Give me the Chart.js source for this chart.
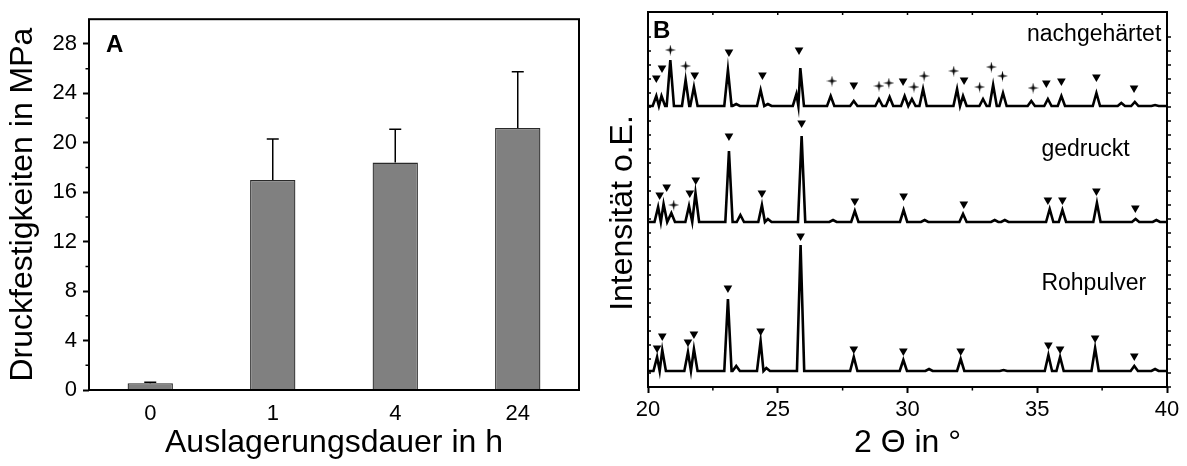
<!DOCTYPE html>
<html>
<head>
<meta charset="utf-8">
<script src="https://cdn.jsdelivr.net/npm/chart.js@4"></script>
<style>
  html, body { margin: 0; padding: 0; background: #fff; }
  #wrap { position: relative; width: 1187px; height: 466px; }
  #boxA { position: absolute; left: 0; top: 0; width: 590px; height: 466px; }
  #boxB { position: absolute; left: 590px; top: 0; width: 597px; height: 466px; }
</style>
</head>
<body>
<div id="wrap">
  <div id="boxA"><canvas id="strengthChart"></canvas></div>
  <div id="boxB"><canvas id="xrdChart"></canvas></div>
</div>
<script>
// ---- Panel A: Druckfestigkeit ----
const ageingHours = ["0", "1", "4", "24"];
const strengthMPa = [0.55, 17.0, 18.4, 21.2];
const strengthErr = [0.07, 3.3, 2.7, 4.55];
const strengthTicks = [0, 4, 8, 12, 16, 20, 24, 28];
const strengthMinorTicks = [2, 6, 10, 14, 18, 22, 26];

// ---- Panel B: XRD, peaks as [2 theta, height above baseline] ----
const thetaTicks = [20, 25, 30, 35, 40];
const thetaMinorTicks = [22.5, 27.5, 32.5, 37.5];

const rohBase = 16;
const rohPeaks = [
  [20.35, 14], [20.55, 21], [21.54, 19], [21.77, 22], [23.08, 72], [23.40, 5],
  [24.34, 30], [24.56, 3], [25.88, 126], [27.93, 14], [29.84, 11], [30.83, 2],
  [32.05, 12], [33.70, 1], [35.43, 16], [35.88, 14], [37.23, 23], [38.74, 5], [39.54, 2]
];
const gedBase = 165;
const gedPeaks = [
  [20.39, 15], [20.60, 18], [20.90, 9], [21.58, 16], [21.83, 29], [23.12, 71], [23.56, 7],
  [24.39, 17], [24.62, 3], [25.92, 86], [27.13, 2], [27.97, 11], [29.85, 12], [30.66, 2],
  [32.14, 8], [33.36, 2], [33.75, 2], [35.48, 13], [35.97, 12], [37.30, 19], [38.79, 3], [39.59, 2]
];
const nachBase = 281;
const nachPeaks = [
  [20.32, 10], [20.52, 10], [20.86, 46], [21.45, 26], [21.77, 19], [23.08, 36], [23.40, 2],
  [24.34, 16], [24.62, 2], [25.72, 12], [25.87, 38], [27.04, 10], [27.93, 5], [28.90, 7],
  [29.31, 9], [29.89, 10], [30.17, 7], [30.60, 17], [31.91, 17], [32.14, 10], [32.91, 7],
  [33.30, 21], [33.68, 13], [34.77, 5], [35.41, 7], [35.93, 10], [37.28, 13], [38.24, 3],
  [38.76, 4], [39.54, 1]
];

// reflex markers [2 theta, intensity]
const rohTri = [[20.35, 39], [20.55, 51], [21.54, 45], [21.77, 53], [23.08, 99], [24.34, 56],
  [25.88, 151], [27.93, 38], [29.84, 36], [32.05, 36], [35.43, 42], [35.88, 38], [37.23, 49], [38.74, 31]];
const gedTri = [[20.45, 192], [20.72, 200], [21.61, 194], [21.84, 207], [23.12, 251], [24.39, 194],
  [25.92, 264], [27.97, 186], [29.85, 191], [32.17, 183], [35.41, 187], [35.97, 187], [37.28, 196], [38.78, 179]];
const gedStar = [[20.99, 182]];
const nachTri = [[20.32, 309], [20.54, 319], [21.80, 312], [23.12, 335], [24.41, 312], [25.82, 337],
  [27.93, 302], [29.83, 306], [32.18, 307], [35.35, 304], [35.93, 306], [37.28, 310], [38.73, 299]];
const nachStar = [[20.86, 337], [21.45, 321], [27.09, 306], [28.90, 301], [29.28, 304], [30.25, 300],
  [30.64, 311], [31.78, 316], [32.78, 300], [33.23, 320], [33.66, 311], [34.84, 299]];

const curveLabels = [
  {text: "nachgehärtet", theta: 39.78, y: 352, align: "right"},
  {text: "gedruckt", theta: 35.16, y: 237, align: "left"},
  {text: "Rohpulver", theta: 35.16, y: 103, align: "left"}
];

Chart.defaults.font.family = "'Liberation Sans', Arial, sans-serif";
Chart.defaults.color = "#000";
Chart.defaults.animation = false;

const FONT = "'Liberation Sans', Arial, sans-serif";
const PEAK_HW = 0.14;

function tracePoints(base, peaks) {
  const pts = [[20, base]];
  peaks.forEach(function (p, i) {
    const prev = peaks[i - 1], next = peaks[i + 1];
    const left = prev ? Math.min(PEAK_HW, (p[0] - prev[0]) / 2) : PEAK_HW;
    const right = next ? Math.min(PEAK_HW, (next[0] - p[0]) / 2) : PEAK_HW;
    pts.push([p[0] - left, base]);
    pts.push([p[0], base + p[1]]);
    pts.push([p[0] + right, base]);
  });
  pts.push([40, base]);
  return pts;
}

function makeStar() {
  const c = document.createElement("canvas");
  c.width = 11; c.height = 11;
  const g = c.getContext("2d");
  g.fillStyle = "#000";
  g.beginPath();
  g.moveTo(5.5, 0); g.lineTo(6.5, 4.5); g.lineTo(11, 5.5); g.lineTo(6.5, 6.5);
  g.lineTo(5.5, 11); g.lineTo(4.5, 6.5); g.lineTo(0, 5.5); g.lineTo(4.5, 4.5);
  g.closePath(); g.fill();
  return c;
}
const starImg = makeStar();

function lineSet(points) {
  return {data: points, borderColor: "#000", borderWidth: 2.6, pointRadius: 0, tension: 0, fill: false};
}
function triSet(points) {
  return {data: points, showLine: false, pointStyle: "triangle", rotation: 180,
    pointRadius: 5, backgroundColor: "#000", borderWidth: 0};
}
function starSet(points) {
  return {data: points, showLine: false, pointStyle: starImg, pointRadius: 5,
    backgroundColor: "#000", borderWidth: 0};
}

// error bars, minor ticks, frame, panel letter
const panelA = {
  id: "panelA",
  afterDatasetsDraw: function (chart) {
    const ctx = chart.ctx, y = chart.scales.y, area = chart.chartArea;
    ctx.save();
    ctx.strokeStyle = "#000";
    ctx.lineWidth = 1.5;
    chart.getDatasetMeta(0).data.forEach(function (bar, i) {
      const top = y.getPixelForValue(strengthMPa[i] + strengthErr[i]);
      ctx.beginPath();
      ctx.moveTo(bar.x, bar.y);
      ctx.lineTo(bar.x, top);
      ctx.moveTo(bar.x - 6, top);
      ctx.lineTo(bar.x + 6, top);
      ctx.stroke();
    });
    ctx.beginPath();
    strengthMinorTicks.forEach(function (v) {
      const py = y.getPixelForValue(v);
      ctx.moveTo(area.left, py);
      ctx.lineTo(area.left - 3.5, py);
    });
    ctx.stroke();
    ctx.lineWidth = 2;
    ctx.strokeRect(area.left, area.top, area.right - area.left, area.bottom - area.top);
    ctx.fillStyle = "#000";
    ctx.font = "bold 24px " + FONT;
    ctx.textBaseline = "middle";
    ctx.fillText("A", area.left + 17, area.top + 26);
    ctx.restore();
  }
};

const panelB = {
  id: "panelB",
  afterDatasetsDraw: function (chart) {
    const ctx = chart.ctx, x = chart.scales.x, y = chart.scales.y, area = chart.chartArea;
    ctx.save();
    ctx.strokeStyle = "#000";
    ctx.lineWidth = 1.5;
    ctx.beginPath();
    thetaMinorTicks.forEach(function (v) {
      const px = x.getPixelForValue(v);
      ctx.moveTo(px, area.bottom);
      ctx.lineTo(px, area.bottom + 3.5);
    });
    thetaTicks.concat(thetaMinorTicks).forEach(function (v) {
      const px = x.getPixelForValue(v);
      ctx.moveTo(px, area.top);
      ctx.lineTo(px, area.top + 3);
    });
    y.ticks.forEach(function (t) {
      if (t.value >= y.max) return;
      const py = y.getPixelForValue(t.value);
      ctx.moveTo(area.left, py);
      ctx.lineTo(area.left + 3, py);
      ctx.moveTo(area.right, py);
      ctx.lineTo(area.right + 4, py);
    });
    ctx.stroke();
    ctx.lineWidth = 2;
    ctx.strokeRect(area.left, area.top, area.right - area.left, area.bottom - area.top);

    ctx.fillStyle = "#000";
    ctx.font = "bold 24px " + FONT;
    ctx.textBaseline = "middle";
    ctx.textAlign = "left";
    ctx.fillText("B", area.left + 5, area.top + 19);

    ctx.font = "23px " + FONT;
    curveLabels.forEach(function (l) {
      ctx.textAlign = l.align;
      ctx.fillText(l.text, x.getPixelForValue(l.theta), y.getPixelForValue(l.y));
    });

    ctx.font = "32px " + FONT;
    ctx.textAlign = "center";
    ctx.translate(area.left - 25, area.top + 201);
    ctx.rotate(-Math.PI / 2);
    ctx.fillText("Intensität o.E.", 0, 0);
    ctx.restore();
  }
};

document.addEventListener("DOMContentLoaded", function () {

  // Compressive strength bar chart
  new Chart(document.getElementById("strengthChart"), {
    type: "bar",
    data: {
      labels: ageingHours,
      datasets: [{
        data: strengthMPa,
        backgroundColor: "#808080",
        borderColor: "#2a2a2a",
        borderWidth: 1.3,
        barPercentage: 0.37,
        categoryPercentage: 1.0
      }]
    },
    options: {
      responsive: true,
      maintainAspectRatio: false,
      layout: {padding: {top: 12, right: 11, left: 0, bottom: 0}},
      plugins: {legend: {display: false}, tooltip: {enabled: false}},
      scales: {
        x: {
          offset: true,
          grid: {display: false},
          border: {display: false},
          ticks: {font: {size: 22}, padding: 3, maxRotation: 0},
          title: {display: true, text: "Auslagerungsdauer in h", font: {size: 32}, padding: {top: 0, bottom: 4}},
          afterFit: function (s) { s.height = 76; }
        },
        y: {
          min: 0,
          max: 30,
          afterBuildTicks: function (s) { s.ticks = strengthTicks.map(function (v) { return {value: v}; }); },
          ticks: {font: {size: 22}, padding: 6},
          grid: {drawOnChartArea: false, tickLength: 6, tickWidth: 2, tickColor: "#000"},
          border: {display: false},
          title: {display: true, text: "Druckfestigkeiten in MPa", font: {size: 32}, padding: {top: 4, bottom: 0}},
          afterFit: function (s) { s.width = 89; }
        }
      }
    },
    plugins: [panelA]
  });

  // XRD patterns
  new Chart(document.getElementById("xrdChart"), {
    type: "line",
    data: {
      datasets: [
        lineSet(tracePoints(rohBase, rohPeaks)),
        lineSet(tracePoints(gedBase, gedPeaks)),
        lineSet(tracePoints(nachBase, nachPeaks)),
        triSet(rohTri),
        triSet(gedTri),
        triSet(nachTri),
        starSet(gedStar),
        starSet(nachStar)
      ]
    },
    options: {
      responsive: true,
      maintainAspectRatio: false,
      layout: {padding: {top: 12, right: 20, left: 0, bottom: 0}},
      plugins: {legend: {display: false}, tooltip: {enabled: false}},
      scales: {
        x: {
          type: "linear",
          min: 20,
          max: 40,
          afterBuildTicks: function (s) { s.ticks = thetaTicks.map(function (v) { return {value: v}; }); },
          ticks: {font: {size: 22}, padding: 4},
          grid: {drawOnChartArea: false, tickLength: 6, tickWidth: 2, tickColor: "#000"},
          border: {display: false},
          title: {display: true, text: "2 Θ in °", font: {size: 32}, padding: {top: 0, bottom: 4}},
          afterFit: function (s) { s.height = 79; }
        },
        y: {
          min: 0,
          max: 375,
          ticks: {display: false, stepSize: 14},
          grid: {display: false},
          border: {display: false},
          afterFit: function (s) { s.width = 58; }
        }
      }
    },
    plugins: [panelB]
  });

});
</script>
</body>
</html>
